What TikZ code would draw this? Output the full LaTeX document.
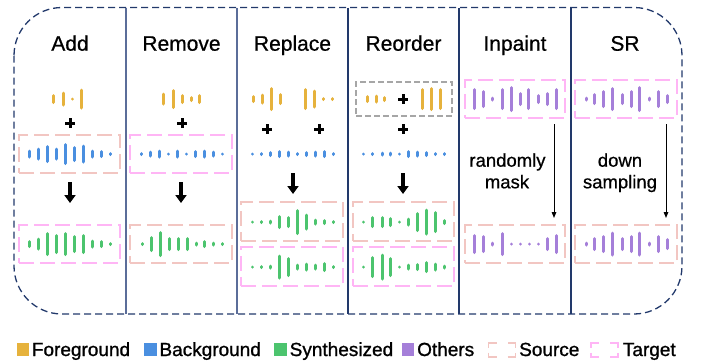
\documentclass[tikz,border=0pt]{standalone}
\usepackage{fontspec}
\setmainfont{Liberation Sans}
\newfontfamily\medfont[FakeBold=0.6]{Liberation Sans}
\newfontfamily\legfont[FakeBold=1.1]{Liberation Sans}
\usetikzlibrary{arrows.meta}
\definecolor{cyel}{HTML}{E6B23C}
\definecolor{cblu}{HTML}{4A8FE0}
\definecolor{cgrn}{HTML}{4CC46E}
\definecolor{cpur}{HTML}{A57FD9}
\definecolor{csrc}{HTML}{F2C6C2}
\definecolor{ctgt}{HTML}{FFB5F5}
\definecolor{cgray}{HTML}{A6A6A6}
\definecolor{cnavy}{HTML}{22396B}
\definecolor{cslate}{HTML}{5B6D99}
\tikzset{
  wbar/.style={line width=3pt, line cap=round},
  srcbox/.style={draw=csrc, line width=1.8pt, dash pattern=on 15pt off 6pt,
    minimum width=101pt, minimum height=38pt, inner sep=0pt},
  tgtbox/.style={srcbox, draw=ctgt},
  graybox/.style={draw=cgray, line width=1.5pt, dash pattern=on 6pt off 3pt,
    minimum width=96pt, minimum height=34pt, inner sep=0pt},
  title/.style={font=\medfont\fontsize{21}{25}\selectfont, inner sep=0pt},
  note/.style={font=\medfont\fontsize{18.5}{22}\selectfont, inner sep=0pt},
  legtext/.style={font=\legfont\fontsize{19}{22}\selectfont, inner sep=0pt, anchor=base west},
  bigarr/.style={line width=3.6pt, -{Triangle[length=8pt,width=11pt]}},
  thinarr/.style={line width=1pt, -{Triangle[length=6pt,width=4.6pt]}},
  plusst/.style={line width=3pt},
  divider/.style={line width=1.2pt},
  legsq/.style={minimum width=12.6pt, minimum height=13.3pt, inner sep=0pt, anchor=south west},
  legcorner/.style={line width=1.3pt},
}
\newcommand\wbars[3]{\foreach \x/\h in {#3} {\draw[wbar,#1] (\x,{#2-max(\h-3,0.01)/2}) -- ++(0,{max(\h-3,0.01)});}}
\newcommand\plussign[2]{\draw[plusst] (#1-4.6,#2) -- (#1+4.6,#2) (#1,#2-4.6) -- (#1,#2+4.6);}
% corner-bracket legend box: lower-left at (#2,#3), colour #1, 27 x 14
\newcommand\legbox[3]{%
  \draw[legcorner,#1] (#2,#3-4.5) -- (#2,#3) -- (#2+8,#3)
    (#2+19,#3) -- (#2+27,#3) -- (#2+27,#3-4.5)
    (#2+27,#3-9.5) -- (#2+27,#3-14) -- (#2+19,#3-14)
    (#2+8,#3-14) -- (#2,#3-14) -- (#2,#3-9.5);}
\begin{document}
\begin{tikzpicture}[x=1pt,y=-1pt]
\useasboundingbox (0,0) rectangle (702,360);
% outer frame
\draw[cnavy, line width=1.3pt, dash pattern=on 7pt off 4pt, rounded corners=48pt] (14,7.5) rectangle (682,314);
\draw[divider, cslate] (126,7.5) -- (126,314);
\draw[divider, cslate] (237,7.5) -- (237,314);
\draw[divider, cnavy] (348,7.5) -- (348,314);
\draw[divider, cnavy] (459,7.5) -- (459,314);
\draw[divider, cnavy] (571,7.5) -- (571,314);
% titles
\node[title, anchor=base] (tAdd) at (70,50.7) {Add};
\node[title, anchor=base] (tRem) at (181.5,50.7) {Remove};
\node[title, anchor=base] (tRep) at (292.5,50.7) {Replace};
\node[title, anchor=base] (tReo) at (403.5,50.7) {Reorder};
\node[title, anchor=base] (tInp) at (515,50.7) {Inpaint};
\node[title, anchor=base] (tSR) at (625,50.7) {SR};

% ---------- Add ----------
\wbars{cyel}{99}{53/10, 63/15, 72/3, 81/21}
\plussign{70}{123}
\node[srcbox] (addS) at (69.5,154) {};
\wbars{cblu}{154}{29/9, 38/13, 47/18, 56/13, 65/22, 74/16, 83/19, 92/9, 101/8, 110/4}
\coordinate (addA1) at (70,182);
\coordinate (addA2) at (70,203);
\draw[bigarr] (addA1) -- (addA2);
\node[tgtbox] (addT) at (69.5,244) {};
\wbars{cgrn}{244}{29/8, 38/13, 47/24, 56/20, 65/24, 74/18, 83/20, 92/9, 101/8, 110/4}

% ---------- Remove ----------
\wbars{cyel}{99}{163/13, 173/20, 182/10, 191/6, 199/10}
\plussign{182}{123}
\node[tgtbox, minimum width=102pt] (remT) at (181,154) {};
\wbars{cblu}{154}{141/4, 150/7, 159/9, 168/3, 177/9, 186/3, 195/8, 204/9, 213/7, 222/3}
\coordinate (remA1) at (181,182);
\coordinate (remA2) at (181,203);
\draw[bigarr] (remA1) -- (remA2);
\node[srcbox, minimum width=102pt] (remS) at (181,244) {};
\wbars{cgrn}{244}{142/4, 151/16, 160/26, 169/14, 178/14, 187/14, 196/5, 204/8, 213/5, 222/4}

% ---------- Replace ----------
\wbars{cyel}{99}{253/8, 262/11, 271/24, 280/12, 305/22, 314/19, 323/4, 332/4}
\plussign{267}{129}
\plussign{319}{129}
\wbars{cblu}{154}{252/3, 261/4, 270/6, 279/8, 288/7, 297/4, 306/6, 315/7, 324/8, 333/4}
\coordinate (repA1) at (293,173);
\coordinate (repA2) at (293,194);
\draw[bigarr] (repA1) -- (repA2);
\node[srcbox, minimum width=102pt, minimum height=39pt] (repS) at (292,221.5) {};
\wbars{cgrn}{222}{252/3, 261/4, 270/5, 279/14, 288/12, 297/26, 306/17, 315/7, 324/6, 333/4}
\node[tgtbox, minimum width=102pt, minimum height=39pt] (repT) at (292,266.5) {};
\wbars{cgrn}{267}{252/3, 261/4, 270/5, 279/25, 288/20, 297/7, 306/9, 315/7, 324/10, 333/4}

% ---------- Reorder ----------
\node[graybox] (reoG) at (404,99) {};
\wbars{cyel}{99}{367/8, 376/9, 384/6, 422/22, 431/24, 440/22}
\plussign{403}{99}
\plussign{403}{129}
\wbars{cblu}{154}{363/3, 372/4, 382/5, 390/5, 399/3, 408/8, 417/7, 426/6, 435/4, 444/4}
\coordinate (reoA1) at (403,173);
\coordinate (reoA2) at (403,194);
\draw[bigarr] (reoA1) -- (reoA2);
\node[srcbox, minimum height=39pt] (reoS) at (403.5,221.5) {};
\wbars{cgrn}{222}{363/3, 372/12, 382/12, 390/10, 399/3, 408/9, 417/20, 426/27, 435/22, 444/6}
\node[tgtbox, minimum height=39pt] (reoT) at (403.5,266.5) {};
\wbars{cgrn}{267}{363/3, 372/22, 382/27, 390/20, 399/3, 408/7, 417/8, 426/12, 435/9, 444/5}

% ---------- Inpaint ----------
\node[tgtbox, minimum width=100pt] (inpT) at (515,99) {};
\wbars{cpur}{99}{474/22, 483/18, 492/5, 502/22, 511/26, 520/14, 528/22, 538/10, 547/14, 556/22}
\coordinate (inpA1) at (554,124);
\coordinate (inpA2) at (554,218);
\draw[thinarr] (inpA1) -- (inpA2);
\node[note, anchor=base] (inpL1) at (507.5,166.7) {randomly};
\node[note, anchor=base] (inpL2) at (507,188.3) {mask};
\node[srcbox, minimum width=100pt] (inpS) at (515,244) {};
\wbars{cpur}{244}{474/20, 483/18, 492/5, 502/24, 511/3, 520/3, 529/3, 538/3, 547/14, 556/20}

% ---------- SR ----------
\node[tgtbox, minimum width=102pt] (srT) at (626,99) {};
\wbars{cpur}{99}{586/5, 594/12, 603/18, 612/24, 622/12, 631/18, 639/26, 649/5, 658/18, 667/10}
\coordinate (srA1) at (666,124);
\coordinate (srA2) at (666,218);
\draw[thinarr] (srA1) -- (srA2);
\node[note, anchor=base] (srL1) at (620,166.7) {down};
\node[note, anchor=base] (srL2) at (620,188.3) {sampling};
\node[srcbox, minimum width=102pt] (srS) at (626,244) {};
\wbars{cpur}{244}{586/5, 594/14, 603/18, 612/25, 622/14, 631/18, 639/25, 649/5, 658/18, 667/12}

% ---------- Legend ----------
\node[legsq, fill=cyel] (lq1) at (16.6,356) {};
\node[legtext] (lt1) at (31.7,356) {Foreground};
\node[legsq, fill=cblu] (lq2) at (143.7,356) {};
\node[legtext] (lt2) at (159.3,356) {Background};
\node[legsq, fill=cgrn] (lq3) at (273.9,356) {};
\node[legtext] (lt3) at (289.5,356) {Synthesized};
\node[legsq, fill=cpur] (lq4) at (401.5,356) {};
\node[legtext] (lt4) at (417,356) {Others};
\legbox{csrc}{488.5}{357}
\node[legtext] (lt5) at (519,356) {Source};
\legbox{ctgt}{591}{357}
\node[legtext] (lt6) at (622.7,356) {Target};
\end{tikzpicture}
\end{document}
